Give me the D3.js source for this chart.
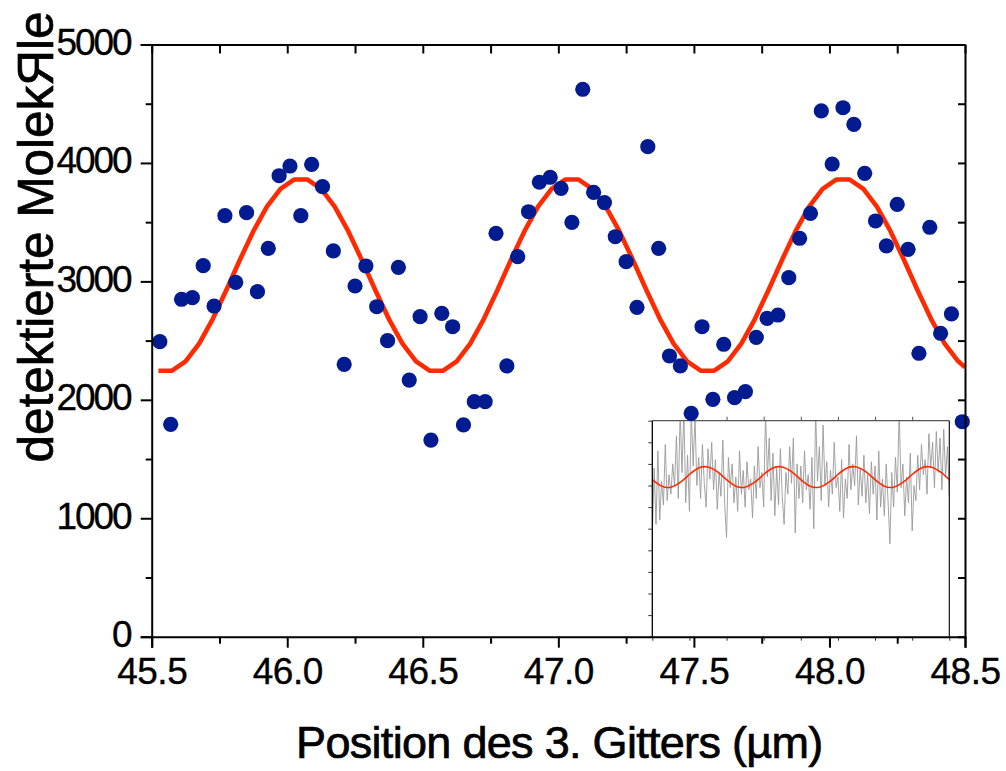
<!DOCTYPE html>
<html>
<head>
<meta charset="utf-8">
<script src="https://cdn.jsdelivr.net/npm/d3@7"></script>
<style>
  html, body { margin: 0; padding: 0; background: #fff; }
  svg { display: block; font-family: "Liberation Sans", Arial, sans-serif; }
</style>
</head>
<body>
<svg id="chart" width="1006" height="771"></svg>
<script>
// ---------------- data ----------------
const xTicks = [45.5, 46.0, 46.5, 47.0, 47.5, 48.0, 48.5];
const xTickLabels = ["45.5", "46.0", "46.5", "47.0", "47.5", "48.0", "48.5"];
const xMinorTicks = [45.75, 46.25, 46.75, 47.25, 47.75, 48.25];
const yTicks = [0, 1000, 2000, 3000, 4000, 5000];
const yTickLabels = ["0", "1000", "2000", "3000", "4000", "5000"];
const yMinorTicks = [500, 1500, 2500, 3500, 4500];

const xLabel = "Position des 3. Gitters (µm)";
const yLabel = "detektierte MolekЯle";

// measured points (position, count)
const pointX = [45.53, 45.57, 45.61, 45.65, 45.69, 45.73, 45.77, 45.81, 45.85, 45.89,
                45.93, 45.97, 46.01, 46.05, 46.09, 46.13, 46.17, 46.21, 46.25, 46.29,
                46.33, 46.37, 46.41, 46.45, 46.49, 46.53, 46.57, 46.61, 46.65, 46.69,
                46.73, 46.77, 46.81, 46.85, 46.89, 46.93, 46.97, 47.01, 47.05, 47.09,
                47.13, 47.17, 47.21, 47.25, 47.29, 47.33, 47.37, 47.41, 47.45, 47.49,
                47.53, 47.57, 47.61, 47.65, 47.69, 47.73, 47.77, 47.81, 47.85, 47.89,
                47.93, 47.97, 48.01, 48.05, 48.09, 48.13, 48.17, 48.21, 48.25, 48.29,
                48.33, 48.37, 48.41, 48.45, 48.49];
const pointY = [2491, 1793, 2849, 2862, 3133, 2792, 3555, 2992, 3580, 2913,
                3279, 3892, 3974, 3555, 3988, 3800, 3257, 2300, 2961, 3130,
                2786, 2499, 3119, 2167, 2702, 1660, 2730, 2617, 1788, 1984,
                1984, 3406, 2286, 3209, 3588, 3837, 3879, 3786, 3499, 4622,
                3752, 3665, 3377, 3166, 2781, 4137, 3279, 2370, 2286, 1886,
                2617, 2004, 2469, 2018, 2069, 2528, 2688, 2716, 3031, 3364,
                3575, 4439, 3991, 4466, 4326, 3912, 3510, 3299, 3651, 3271,
                2393, 3457, 2562, 2725, 1815];

// fitted curve vertices (position, count)
const fitX = [45.525, 45.575, 45.625, 45.675, 45.725, 45.775, 45.825, 45.875, 45.925, 45.975,
              46.025, 46.075, 46.125, 46.175, 46.225, 46.275, 46.325, 46.375, 46.425, 46.475,
              46.525, 46.575, 46.625, 46.675, 46.725, 46.775, 46.825, 46.875, 46.925, 46.975,
              47.025, 47.075, 47.125, 47.175, 47.225, 47.275, 47.325, 47.375, 47.425, 47.475,
              47.525, 47.575, 47.625, 47.675, 47.725, 47.775, 47.825, 47.875, 47.925, 47.975,
              48.025, 48.075, 48.125, 48.175, 48.225, 48.275, 48.325, 48.375, 48.425, 48.475, 48.5];
const fitY = [2246, 2246, 2325, 2475, 2682, 2925, 3181, 3424, 3631, 3781,
              3860, 3860, 3781, 3631, 3424, 3181, 2925, 2682, 2475, 2325,
              2246, 2246, 2325, 2475, 2682, 2925, 3181, 3424, 3631, 3781,
              3860, 3860, 3781, 3631, 3424, 3181, 2925, 2682, 2475, 2325,
              2246, 2246, 2325, 2475, 2682, 2925, 3181, 3424, 3631, 3781,
              3860, 3860, 3781, 3631, 3424, 3181, 2925, 2682, 2475, 2325, 2276];

// inset: raw signal and fit (arbitrary units)
const insetXTicks = [0, 1, 2, 3, 4, 5, 6, 7, 8];
const insetYTicks = [0, 1, 2, 3, 4, 5, 6, 7, 8, 9, 10];
const insetNoise = [4.7, 7.8, 5.2, 8.6, 5.4, 7.2, 6.1, 8.9, 6.3, 7.5,
                    6.6, 8.0, 7.0, 9.3, 6.4, 10.5, 7.6, 10.5, 6.2, 8.4,
                    5.8, 10.5, 7.9, 10.2, 7.0, 8.3, 6.4, 8.9, 7.1, 6.0,
                    8.7, 7.3, 9.0, 6.8, 8.2, 5.9, 7.6, 6.5, 9.1, 6.1,
                    4.6, 8.3, 6.9, 8.0, 6.2, 7.4, 5.8, 8.6, 6.6, 7.7,
                    6.0, 8.1, 6.8, 7.3, 5.5, 7.9, 6.4, 8.8, 6.9, 7.6,
                    6.0, 10.5, 7.4, 9.2, 6.3, 8.5, 5.6, 7.8, 6.1, 8.7,
                    6.5, 5.2, 7.6, 6.6, 8.8, 7.1, 9.2, 4.8, 8.0, 6.4,
                    7.9, 6.2, 8.6, 6.8, 7.5, 5.9, 8.3, 5.0, 10.5, 7.2,
                    8.8, 6.3, 9.8, 7.0, 8.1, 6.0, 7.7, 6.6, 9.0, 6.9,
                    7.4, 5.8, 8.2, 5.5, 7.3, 6.4, 8.9, 6.8, 8.0, 7.0,
                    9.3, 6.1, 7.8, 6.5, 8.4, 6.2, 7.5, 5.7, 8.1, 6.6,
                    7.9, 5.4, 8.6, 6.0, 7.3, 5.6, 8.0, 6.3, 4.3, 7.6,
                    6.0, 8.3, 6.7, 10.5, 6.9, 8.0, 5.6, 7.4, 6.2, 8.5,
                    4.9, 7.0, 6.3, 8.4, 6.8, 8.9, 7.5, 8.2, 6.6, 9.4,
                    7.8, 9.0, 6.9, 9.5, 7.6, 9.2, 6.8, 9.6, 7.4, 8.8, 6.5];
const insetFit = [7.27, 6.97, 6.92, 7.14, 7.51, 7.81, 7.86, 7.64,
                  7.27, 6.97, 6.92, 7.14, 7.51, 7.81, 7.86, 7.64,
                  7.27, 6.97, 6.92, 7.14, 7.51, 7.81, 7.86, 7.64,
                  7.27, 6.97, 6.92, 7.14, 7.51, 7.81, 7.86, 7.64, 7.27];

// ---------------- chart ----------------
const svg = d3.select("#chart");
const L = 151.7, R = 965, T = 44.5, B = 636.7;
const x = d3.scaleLinear().domain([45.5, 48.5]).range([L, R]);
const y = d3.scaleLinear().domain([0, 5000]).range([B, T]);
const FONT = "'Liberation Sans', Arial, sans-serif";

// inset
const IL = 652.3, IR = 949.3, IT = 420.7, IB = B;
const ix = d3.scaleLinear().domain([0, 8]).range([IL, IR]);
const iy = d3.scaleLinear().domain([0, 10]).range([IB, IT]);

const defs = svg.append("defs");
defs.append("clipPath").attr("id", "insetClip")
  .append("rect").attr("x", IL).attr("y", IT).attr("width", IR - IL).attr("height", IB - IT);

const inset = svg.append("g");
const gInset = inset.append("g").attr("clip-path", "url(#insetClip)");
const noiseStep = 8 / (insetNoise.length - 1);
gInset.append("path")
  .datum(insetNoise)
  .attr("fill", "none").attr("stroke", "#9a9a9a").attr("stroke-width", 0.9)
  .attr("d", d3.line().x((d, i) => ix(i * noiseStep)).y(d => iy(d)));
const fitStep = 8 / (insetFit.length - 1);
gInset.append("path")
  .datum(insetFit)
  .attr("fill", "none").attr("stroke", "#ff2a00").attr("stroke-width", 1.6)
  .attr("d", d3.line().curve(d3.curveNatural).x((d, i) => ix(i * fitStep)).y(d => iy(d)));

// inset frame and ticks
inset.append("line").attr("x1", IL).attr("x2", IR).attr("y1", IT).attr("y2", IT)
  .attr("stroke", "#555").attr("stroke-width", 1.3);
inset.append("line").attr("x1", IL).attr("x2", IL).attr("y1", IT).attr("y2", IB)
  .attr("stroke", "#000").attr("stroke-width", 1.3);
inset.append("line").attr("x1", IR).attr("x2", IR).attr("y1", IT).attr("y2", IB)
  .attr("stroke", "#000").attr("stroke-width", 1.1);
const insetLeftAxis = d3.axisLeft(iy).tickValues(insetYTicks).tickSize(4).tickFormat("");
inset.append("g").attr("transform", `translate(${IL},0)`).call(insetLeftAxis)
  .call(g => g.select(".domain").remove())
  .call(g => g.selectAll(".tick line").attr("stroke", "#333").attr("stroke-width", 1));
const insetTopAxis = d3.axisTop(ix).tickValues(insetXTicks.slice(1, -1)).tickSize(4).tickFormat("");
inset.append("g").attr("transform", `translate(0,${IT})`).call(insetTopAxis)
  .call(g => g.select(".domain").remove())
  .call(g => g.selectAll(".tick line").attr("stroke", "#555").attr("stroke-width", 1));
const insetBottomAxis = d3.axisBottom(ix).tickValues(insetXTicks).tickSize(4).tickFormat("");
inset.append("g").attr("transform", `translate(0,${IB})`).call(insetBottomAxis)
  .call(g => g.select(".domain").remove())
  .call(g => g.selectAll(".tick line").attr("stroke", "#333").attr("stroke-width", 1));

// fit curve
svg.append("path")
  .datum(fitX.map((d, i) => [d, fitY[i]]))
  .attr("fill", "none").attr("stroke", "#ff2a00").attr("stroke-width", 4.6)
  .attr("stroke-linejoin", "round")
  .attr("d", d3.line().x(d => x(d[0])).y(d => y(d[1])));

// points
svg.append("g").selectAll("circle")
  .data(pointX.map((d, i) => [d, pointY[i]]))
  .join("circle")
  .attr("cx", d => x(d[0])).attr("cy", d => y(d[1])).attr("r", 7.6)
  .attr("fill", "#021b90");

// axes
const axisStyle = g => {
  g.select(".domain").attr("stroke", "#000").attr("stroke-width", 2);
  g.selectAll(".tick line").attr("stroke", "#000").attr("stroke-width", 2);
};

// bottom major
svg.append("g").attr("transform", `translate(0,${B})`)
  .call(d3.axisBottom(x).tickValues(xTicks).tickSize(11).tickPadding(10)
    .tickFormat((d, i) => xTickLabels[i]))
  .call(axisStyle)
  .call(g => g.selectAll("text").attr("font-family", FONT).attr("font-size", 37)
    .attr("fill", "#000").attr("stroke", "#000").attr("stroke-width", 0.35)
    .attr("letter-spacing", "-0.5px"));
// bottom minor
svg.append("g").attr("transform", `translate(0,${B})`)
  .call(d3.axisBottom(x).tickValues(xMinorTicks).tickSize(7).tickFormat(""))
  .call(axisStyle).call(g => g.select(".domain").remove());

// left major
svg.append("g").attr("transform", `translate(${L},0)`)
  .call(d3.axisLeft(y).tickValues(yTicks).tickSize(11).tickPadding(10)
    .tickFormat((d, i) => yTickLabels[i]))
  .call(axisStyle)
  .call(g => g.selectAll("text").attr("font-family", FONT).attr("font-size", 37)
    .attr("fill", "#000").attr("stroke", "#000").attr("stroke-width", 0.35)
    .attr("letter-spacing", "-2px").attr("dy", "0.27em"));
// left minor
svg.append("g").attr("transform", `translate(${L},0)`)
  .call(d3.axisLeft(y).tickValues(yMinorTicks).tickSize(6).tickFormat(""))
  .call(axisStyle).call(g => g.select(".domain").remove());

// top (inward ticks)
svg.append("g").attr("transform", `translate(0,${T})`)
  .call(d3.axisTop(x).tickValues(xTicks.concat(xMinorTicks)).tickSizeInner(-9).tickSizeOuter(0).tickFormat(""))
  .call(axisStyle);
// right (inward ticks)
svg.append("g").attr("transform", `translate(${R},0)`)
  .call(d3.axisRight(y).tickValues(yTicks.concat(yMinorTicks)).tickSizeInner(-7).tickSizeOuter(0).tickFormat(""))
  .call(axisStyle);

// axis titles
svg.append("text")
  .attr("x", (L + R) / 2 + 1).attr("y", 758)
  .attr("text-anchor", "middle")
  .attr("font-family", FONT).attr("font-size", 45).attr("letter-spacing", "-0.7px")
  .attr("fill", "#000").attr("stroke", "#000").attr("stroke-width", 0.7)
  .text(xLabel);

svg.append("text")
  .attr("transform", "translate(53,237) rotate(-90)")
  .attr("text-anchor", "middle")
  .attr("font-family", FONT).attr("font-size", 49.5)
  .attr("fill", "#000").attr("stroke", "#000").attr("stroke-width", 0.7)
  .text(yLabel);
</script>
</body>
</html>
